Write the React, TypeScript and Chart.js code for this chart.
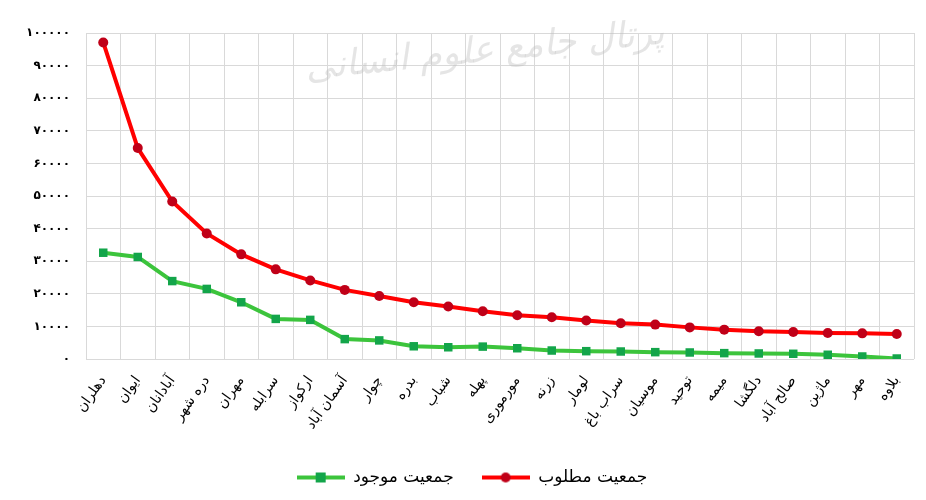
import React, { useEffect, useRef } from "react";
import { Chart, registerables } from "chart.js";

Chart.register(...registerables);

const categories: string[] = [
  "دهلران",
  "ایوان",
  "آبادانان",
  "دره شهر",
  "مهران",
  "سرابله",
  "ارکواز",
  "آسمان آباد",
  "چوار",
  "بدره",
  "شباب",
  "پهله",
  "مورموری",
  "زرنه",
  "لومار",
  "سراب باغ",
  "موسیان",
  "توحید",
  "میمه",
  "دلگشا",
  "صالح آباد",
  "ماژین",
  "مهر",
  "بلاوه",
];

const existingPopulation = [
  32600, 31300, 23900, 21500, 17400, 12300, 12000, 6100, 5700, 3900, 3600, 3800,
  3300, 2600, 2400, 2300, 2100, 2000, 1800, 1700, 1600, 1300, 770, 150,
];

const desiredPopulation = [
  97100, 64700, 48300, 38500, 32100, 27500, 24100, 21200, 19300, 17400, 16100,
  14650, 13400, 12800, 11800, 10950, 10550, 9700, 9000, 8500, 8270, 7960, 7870,
  7650,
];

const seriesNames = ["جمعیت موجود", "جمعیت مطلوب"];
const yMax = 100000;
const yStep = 10000;
const watermarkText = "پرتال جامع علوم انسانی";

const persianDigits = "۰۱۲۳۴۵۶۷۸۹";
const toPersian = (n: number | string) =>
  String(n).replace(/\d/g, (d) => persianDigits[+d]);

function makeLegendIcon(line: string, marker: string, shape: "circle" | "rect") {
  const c = document.createElement("canvas");
  c.width = 48;
  c.height = 14;
  const ctx = c.getContext("2d")!;
  ctx.strokeStyle = line;
  ctx.lineWidth = 4;
  ctx.beginPath();
  ctx.moveTo(0, 7);
  ctx.lineTo(48, 7);
  ctx.stroke();
  ctx.fillStyle = marker;
  if (shape === "circle") {
    ctx.beginPath();
    ctx.arc(24, 7, 5, 0, Math.PI * 2);
    ctx.fill();
  } else {
    ctx.fillRect(19, 2, 10, 10);
  }
  return c;
}

export default function App() {
  const ref = useRef<HTMLCanvasElement>(null);

  useEffect(() => {
    if (!ref.current) return;
    const greenIcon = makeLegendIcon("#3CC43C", "#13A54A", "rect");
    const redIcon = makeLegendIcon("#FF0000", "#C00018", "circle");

    const watermark = {
      id: "watermark",
      beforeDatasetsDraw(chart: any) {
        const ctx = chart.ctx;
        ctx.save();
        ctx.translate(485, 52);
        ctx.rotate(-0.1);
        ctx.font = "italic 36px 'DejaVu Sans'";
        ctx.fillStyle = "rgba(190,190,190,0.4)";
        ctx.textAlign = "center";
        ctx.textBaseline = "middle";
        ctx.fillText(watermarkText, 0, 0);
        ctx.restore();
      },
    };

    const bg = {
      id: "bg",
      beforeDraw(chart: any) {
        const ctx = chart.ctx;
        ctx.save();
        ctx.fillStyle = "#ffffff";
        ctx.fillRect(0, 0, chart.width, chart.height);
        ctx.restore();
      },
    };

    const legendShift = {
      id: "legendShift",
      afterLayout(chart: any) {
        if (chart.legend) {
          chart.legend.left += 15;
          chart.legend.right += 15;
        }
      },
    };

    const chart = new Chart(ref.current, {
      type: "line",
      data: {
        labels: categories,
        datasets: [
          {
            label: seriesNames[0],
            data: existingPopulation,
            borderColor: "#3CC43C",
            backgroundColor: "#13A54A",
            borderWidth: 4,
            pointStyle: "rect",
            pointRadius: 6,
            pointBorderWidth: 0,
            pointBackgroundColor: "#13A54A",
            pointBorderColor: "#13A54A",
            tension: 0,
          },
          {
            label: seriesNames[1],
            data: desiredPopulation,
            borderColor: "#FF0000",
            backgroundColor: "#C00018",
            borderWidth: 4,
            pointStyle: "circle",
            pointRadius: 5,
            pointBorderWidth: 0,
            pointBackgroundColor: "#C00018",
            pointBorderColor: "#C00018",
            tension: 0,
          },
        ],
      },
      options: {
        responsive: false,
        animation: false,
        layout: { padding: { top: 33, left: 0, right: 12, bottom: 4 } },
        plugins: {
          tooltip: { enabled: false },
          legend: {
            position: "bottom",
            labels: {
              usePointStyle: true,
              pointStyleWidth: 48,
              padding: 28,
              color: "#000",
              font: { family: "'DejaVu Sans'", size: 17 },
              generateLabels: () => [
                {
                  text: seriesNames[0],
                  pointStyle: greenIcon,
                  fillStyle: "#13A54A",
                  strokeStyle: "#13A54A",
                  lineWidth: 0,
                  datasetIndex: 0,
                  hidden: false,
                },
                {
                  text: seriesNames[1],
                  pointStyle: redIcon,
                  fillStyle: "#C00018",
                  strokeStyle: "#C00018",
                  lineWidth: 0,
                  datasetIndex: 1,
                  hidden: false,
                },
              ],
            },
          },
        },
        scales: {
          x: {
            offset: true,
            grid: { offset: true, color: "#d9d9d9", drawTicks: false },
            border: { display: false },
            ticks: {
              autoSkip: false,
              minRotation: 55,
              maxRotation: 55,
              padding: 14,
              color: "#000",
              font: { family: "'DejaVu Sans'", size: 14 },
            },
            afterFit: (scale: any) => {
              scale.height = 82;
            },
          },
          y: {
            min: 0,
            max: yMax,
            grid: { color: "#d9d9d9", drawTicks: false },
            border: { display: false },
            ticks: {
              stepSize: yStep,
              padding: 16,
              color: "#000",
              font: { family: "'DejaVu Sans'", size: 12, weight: "bold" },
              callback: (v: any) => toPersian(v),
            },
            afterFit: (scale: any) => {
              scale.width = 86;
            },
          },
        },
      },
      plugins: [bg, watermark, legendShift],
    } as any);
    return () => chart.destroy();
  }, []);

  return (
    <div style={{ position: "absolute", left: 0, top: 0, width: 926, height: 500, background: "#fff" }}>
      <canvas ref={ref} width={926} height={500} style={{ display: "block" }} />
    </div>
  );
}
